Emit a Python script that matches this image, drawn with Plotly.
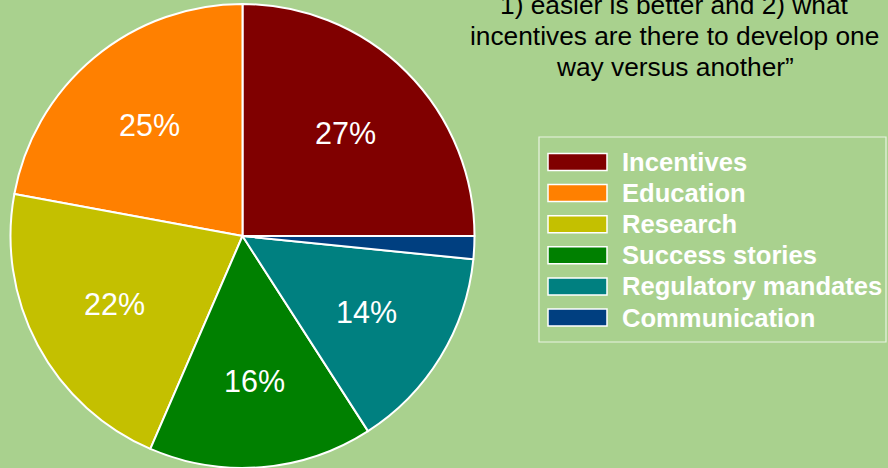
import math
import plotly.graph_objects as go

categories = ["Incentives", "Education", "Research", "Success stories",
              "Regulatory mandates", "Communication"]
slice_values = [25.0, 22.1, 21.4, 15.6, 14.3, 1.6]
pct_labels = ["27%", "25%", "22%", "16%", "14%", ""]
colors = ["#800000", "#FF8000", "#C4C000", "#008000", "#008080", "#003F80"]
title_lines = ["1) easier is better and 2) what",
               "incentives are there to develop one",
               "way versus another\u201d"]

W, H = 888, 468
BG = "#A9D18E"
FONT = "Liberation Sans, Arial, sans-serif"

# pie placement (pixels)
cx, cy, r = 242.5, 236.0, 232.0
label_radius = 0.625  # fraction of the pie radius where percentage labels sit

fig = go.Figure()
fig.add_trace(go.Pie(
    labels=categories,
    values=slice_values,
    textinfo="none",
    marker=dict(colors=colors, line=dict(color="white", width=2)),
    sort=False,
    direction="counterclockwise",
    rotation=0,
    showlegend=False,
    hoverinfo="label+percent",
    domain=dict(x=[(cx - r) / W, (cx + r) / W],
                y=[(H - cy - r) / H, (H - cy + r) / H]),
))

shapes = []
annotations = []

# percentage labels at each slice's mid-angle (same geometry plotly uses:
# first slice clockwise from 12 o'clock, the rest counterclockwise from 12)
total = sum(slice_values)
deg = [v / total * 360.0 for v in slice_values]
mids = [deg[0] / 2.0]
acc = 0.0
for d in deg[1:]:
    mids.append(-(acc + d / 2.0))
    acc += d
for txt, m in zip(pct_labels, mids):
    if not txt:
        continue
    a = math.radians(m)
    px = cx + label_radius * r * math.sin(a)
    py = cy - label_radius * r * math.cos(a)
    annotations.append(dict(xref="paper", yref="paper", x=px / W, y=1 - py / H,
                            xanchor="center", yanchor="middle", showarrow=False,
                            text=txt,
                            font=dict(family=FONT, size=30.5, color="white")))

# legend box
lx0, lx1, ly0, ly1 = 539, 886, 137, 342
shapes.append(dict(type="rect", xref="paper", yref="paper",
                   x0=lx0 / W, x1=lx1 / W, y0=1 - ly1 / H, y1=1 - ly0 / H,
                   line=dict(color="rgba(255,255,255,0.75)", width=1.2),
                   fillcolor="rgba(0,0,0,0)"))
row0, row_step = 162, 31.1
for i, (name, col) in enumerate(zip(categories, colors)):
    yc = row0 + i * row_step
    shapes.append(dict(type="rect", xref="paper", yref="paper",
                       x0=548 / W, x1=607 / W,
                       y0=1 - (yc + 8.5) / H, y1=1 - (yc - 8.5) / H,
                       line=dict(color="white", width=1.5), fillcolor=col))
    annotations.append(dict(xref="paper", yref="paper", x=620 / W, y=1 - yc / H,
                            xanchor="left", yanchor="middle", showarrow=False,
                            text="<b>%s</b>" % name,
                            font=dict(family=FONT, size=25.6, color="white")))

# title text (top cut off in the picture), one annotation per line
title_size = 26.3
baselines = [14, 45, 76]
for line, base in zip(title_lines, baselines):
    annotations.append(dict(xref="paper", yref="paper", x=674.5 / W,
                            y=1 - (base - 0.3465 * title_size) / H,
                            xanchor="center", yanchor="middle", showarrow=False,
                            text=line,
                            font=dict(family=FONT, size=title_size, color="black")))

fig.update_layout(
    width=W, height=H,
    margin=dict(l=0, r=0, t=0, b=0),
    paper_bgcolor=BG, plot_bgcolor=BG,
    shapes=shapes, annotations=annotations,
)

fig.write_html("out.html", config={"displayModeBar": False},
               post_script="document.body.style.margin='0';document.body.style.background='%s';" % BG)
